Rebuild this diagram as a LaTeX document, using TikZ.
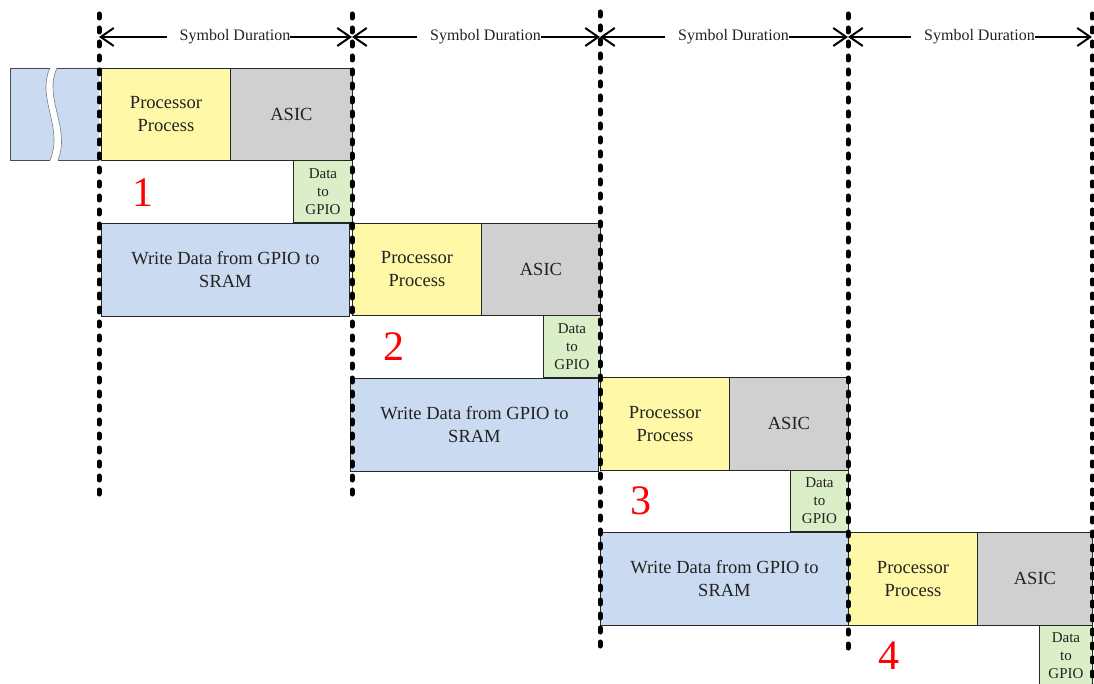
\documentclass[tikz,border=0pt]{standalone}
\usepackage{fontspec}
\setmainfont{Liberation Serif}
\usetikzlibrary{arrows.meta}
\definecolor{wrblue}{HTML}{CADBF1}
\definecolor{ppyellow}{HTML}{FFF8A6}
\definecolor{asicgray}{HTML}{D0D0D0}
\definecolor{gpiogreen}{HTML}{DAEEC8}
\definecolor{txtgray}{HTML}{222222}
\begin{document}
\begin{tikzpicture}[x=1pt,y=-1pt,
  cell/.style={draw=black!85, line width=0.9pt, inner sep=0pt, anchor=north west,
    align=center, text=txtgray, font=\fontsize{18.5}{23}\selectfont},
  wr/.style={cell, fill=wrblue},
  pp/.style={cell, fill=ppyellow},
  asic/.style={cell, fill=asicgray},
  gpio/.style={cell, fill=gpiogreen, font=\fontsize{15}{18}\selectfont},
  num/.style={text=red, font=\fontsize{42}{42}\selectfont, inner sep=0pt},
  vdash/.style={line width=5pt, line cap=round, dash pattern=on 4pt off 10pt},
  dim/.style={line width=2pt, {Straight Barb[length=13pt,width=18pt]}-{Straight Barb[length=13pt,width=18pt]}},
  dimlabel/.style={midway, fill=white, inner xsep=0pt, inner ysep=2pt, xshift=3pt,
    text=txtgray, font=\fontsize{16}{18}\selectfont}]
\useasboundingbox (0,0) rectangle (1094,684);

% earlier write block, broken by a wavy cut
\fill[wrblue] (10,68) -- (50,68) .. controls (36,98) and (64,128) .. (50,160) -- (10,160) -- cycle;
\fill[wrblue] (57,68) -- (99,68) -- (99,160) -- (58,160) .. controls (71,128) and (43,98) .. cycle;
\draw[black!70, line width=0.9pt] (50,68) -- (10,68) -- (10,160) -- (50,160);
\draw[black!70, line width=0.9pt] (57,68) -- (99,68) (99,160) -- (58,160);
\draw[black!50, line width=0.6pt] (50,68) .. controls (36,98) and (64,128) .. (50,160);
\draw[black!50, line width=0.6pt] (57,68) .. controls (43,98) and (71,128) .. (58,160);

% symbol 1
\node[pp,   minimum width=129pt, minimum height=92pt] (pp1)   at (101,68)  {Processor\\Process};
\node[asic, minimum width=122pt, minimum height=92pt] (asic1) at (230,68)  {ASIC};
\node[gpio, minimum width=59pt,  minimum height=62pt] (gpio1) at (293,160) {Data\\to\\GPIO};
\node[num] (n1) at (143,193) {1};

% symbol 2
\node[wr,   minimum width=248pt, minimum height=93pt] (wr2)   at (101,223) {Write Data from GPIO to\\SRAM};
\node[pp,   minimum width=129pt, minimum height=92pt] (pp2)   at (352,223) {Processor\\Process};
\node[asic, minimum width=119pt, minimum height=92pt] (asic2) at (481,223) {ASIC};
\node[gpio, minimum width=57pt,  minimum height=62pt] (gpio2) at (543,315) {Data\\to\\GPIO};
\node[num] (n2) at (394,347) {2};

% symbol 3
\node[wr,   minimum width=248pt, minimum height=93pt] (wr3)   at (350,378) {Write Data from GPIO to\\SRAM};
\node[pp,   minimum width=129pt, minimum height=93pt] (pp3)   at (600,377) {Processor\\Process};
\node[asic, minimum width=119pt, minimum height=93pt] (asic3) at (729,377) {ASIC};
\node[gpio, minimum width=58pt,  minimum height=61pt] (gpio3) at (790,470) {Data\\to\\GPIO};
\node[num] (n3) at (641,501) {3};

% symbol 4
\node[wr,   minimum width=248pt, minimum height=93pt] (wr4)   at (600,532) {Write Data from GPIO to\\SRAM};
\node[pp,   minimum width=129pt, minimum height=93pt] (pp4)   at (848,532) {Processor\\Process};
\node[asic, minimum width=115pt, minimum height=93pt] (asic4) at (977,532) {ASIC};
\node[gpio, minimum width=53pt,  minimum height=61pt] (gpio4) at (1039,625) {Data\\to\\GPIO};
\node[num] (n4) at (889,656) {4};

% symbol boundaries
\coordinate (v0t) at (99,14);   \coordinate (v0b) at (99,500);
\coordinate (v1t) at (352,14);  \coordinate (v1b) at (352,500);
\coordinate (v2t) at (600,12);  \coordinate (v2b) at (600,655);
\coordinate (v3t) at (848,14);  \coordinate (v3b) at (848,655);
\coordinate (v4t) at (1092,14); \coordinate (v4b) at (1092,690);
\foreach \v in {0,...,4} \draw[vdash] (v\v t) -- (v\v b);

% symbol duration markers
\coordinate (a0) at (99,37);
\coordinate (a1) at (352,37);
\coordinate (a2) at (600,37);
\coordinate (a3) at (848,37);
\coordinate (a4) at (1092,37);
\draw[dim] (a0) -- node[dimlabel] {\hspace*{13pt}Symbol Duration} (a1);
\draw[dim] (a1) -- node[dimlabel] {\hspace*{13pt}Symbol Duration} (a2);
\draw[dim] (a2) -- node[dimlabel] {\hspace*{13pt}Symbol Duration} (a3);
\draw[dim] (a3) -- node[dimlabel] {\hspace*{13pt}Symbol Duration} (a4);
\end{tikzpicture}
\end{document}
